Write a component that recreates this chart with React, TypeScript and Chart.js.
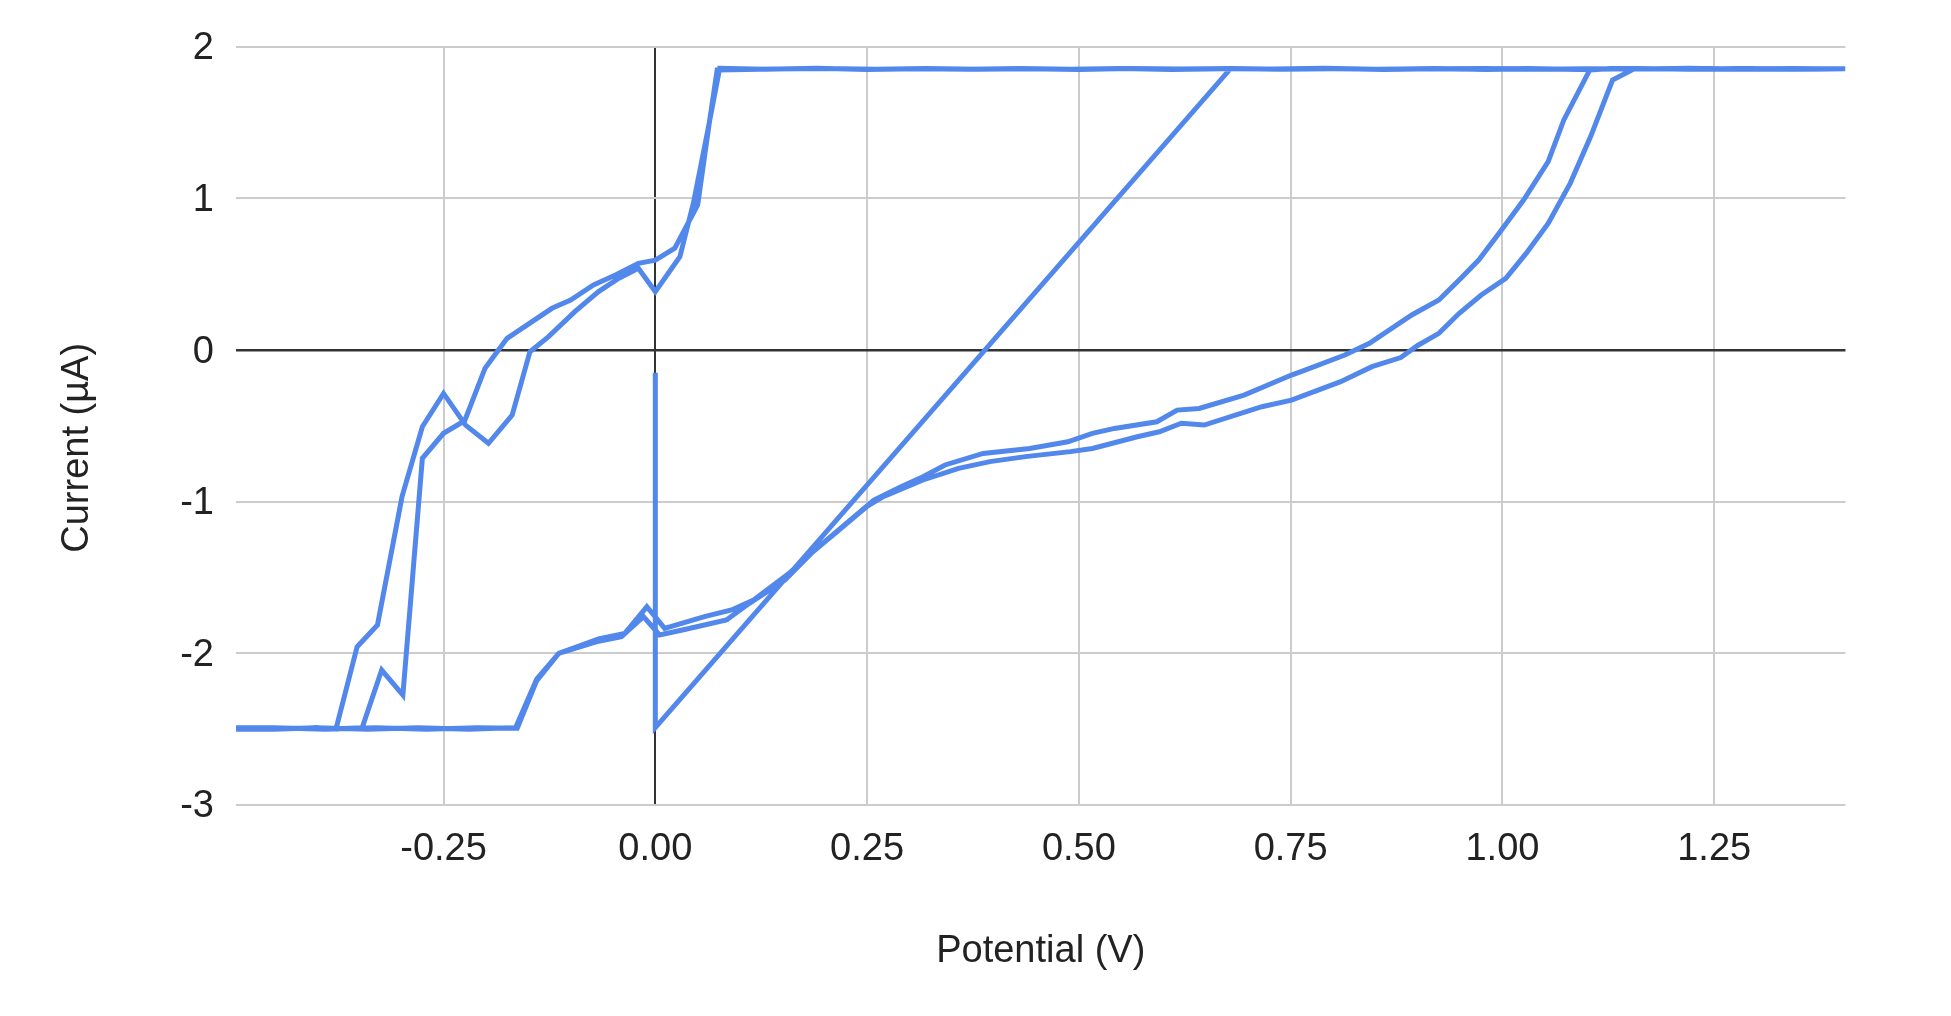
import { useEffect, useRef } from "react";
import { Chart, registerables } from "chart.js";

Chart.register(...registerables);

// Axis labels and ticks
const xTitle = "Potential (V)";
const yTitle = "Current (µA)";
const potentialTicks = [-0.25, 0, 0.25, 0.5, 0.75, 1.0, 1.25];
const currentTicks = [2, 1, 0, -1, -2, -3];
const potentialMin = -0.495;
const potentialMax = 1.405;
const currentMin = -3;
const currentMax = 2;

// Sweep 1: start at 0 V, step to the anodic limit and hold to the vertex
const sweep1Potential = [0, 0, 0.679, 0.74, 0.8, 0.86, 0.92, 0.98, 1.04, 1.1, 1.16, 1.22, 1.28, 1.34, 1.405];
const sweep1Current = [-0.15, -2.49, 1.855, 1.852, 1.857, 1.85, 1.855, 1.857, 1.851, 1.855, 1.853, 1.858, 1.852, 1.856, 1.853];

// Sweep 2: cathodic return (outer branch)
const sweep2Potential = [
  1.35, 1.29, 1.23, 1.17, 1.155, 1.13, 1.104, 1.08, 1.054, 1.028, 1.004, 0.975, 0.949, 0.925, 0.9, 0.88,
  0.846, 0.809, 0.751, 0.716, 0.648, 0.621, 0.595, 0.569, 0.516, 0.49, 0.437, 0.395, 0.358, 0.316, 0.269,
  0.25, 0.214, 0.186, 0.153, 0.111, 0.084, 0.032, 0.005, -0.014, -0.04, -0.067, -0.114, -0.14, -0.163,
  -0.21, -0.27, -0.33, -0.39, -0.45, -0.495,
];
const sweep2Current = [
  1.851, 1.856, 1.852, 1.855, 1.853, 1.78, 1.406, 1.099, 0.835, 0.637, 0.473, 0.363, 0.242, 0.11, 0.03, -0.05,
  -0.11, -0.209, -0.33, -0.374, -0.495, -0.483, -0.539, -0.572, -0.649, -0.67, -0.703, -0.736, -0.78, -0.857, -0.967,
  -1.03, -1.2, -1.33, -1.517, -1.67, -1.78, -1.846, -1.879, -1.758, -1.89, -1.92, -2.0, -2.18, -2.494,
  -2.49, -2.5, -2.49, -2.5, -2.49, -2.5,
];

// Sweep 3: anodic scan, second cycle
const sweep3Potential = [
  -0.45, -0.4, -0.377, -0.352, -0.328, -0.299, -0.275, -0.25, -0.224, -0.197, -0.169, -0.148, -0.126, -0.095,
  -0.067, -0.043, -0.02, 0, 0.029, 0.045, 0.062, 0.076, 0.13, 0.19, 0.25, 0.31, 0.37, 0.43, 0.49, 0.55, 0.61,
  0.67, 0.73, 0.79, 0.85, 0.91, 0.97, 1.03, 1.09, 1.15, 1.21, 1.27, 1.33, 1.405,
];
const sweep3Current = [
  -2.5, -2.49, -2.5, -1.956, -1.813, -0.967, -0.506, -0.286, -0.495, -0.615, -0.429, -0.011, 0.088, 0.253,
  0.385, 0.473, 0.539, 0.385, 0.615, 0.97, 1.45, 1.857, 1.852, 1.858, 1.85, 1.855, 1.851, 1.857, 1.852, 1.856, 1.85,
  1.855, 1.853, 1.858, 1.851, 1.855, 1.852, 1.857, 1.85, 1.854, 1.856, 1.851, 1.855, 1.852,
];

// Sweep 4: cathodic return (inner branch)
const sweep4Potential = [
  1.36, 1.3, 1.24, 1.18, 1.13, 1.103, 1.0725, 1.054, 1.025, 0.996, 0.972, 0.951, 0.925, 0.893, 0.843, 0.814,
  0.767, 0.751, 0.695, 0.642, 0.616, 0.592, 0.542, 0.516, 0.487, 0.442, 0.387, 0.342, 0.316, 0.29, 0.258,
  0.216, 0.184, 0.158, 0.116, 0.09, 0.058, 0.011, -0.01, -0.036, -0.067, -0.087, -0.114, -0.14, -0.165,
  -0.22, -0.28, -0.34, -0.4, -0.46, -0.495,
];
const sweep4Current = [
  1.855, 1.851, 1.856, 1.853, 1.857, 1.846, 1.517, 1.242, 0.989, 0.77, 0.593, 0.473, 0.33, 0.231, 0.044, -0.033,
  -0.132, -0.165, -0.297, -0.385, -0.396, -0.473, -0.517, -0.55, -0.605, -0.649, -0.682, -0.758, -0.835, -0.901, -0.989,
  -1.187, -1.34, -1.472, -1.648, -1.714, -1.758, -1.835, -1.693, -1.868, -1.905, -1.945, -2.0, -2.17, -2.49,
  -2.5, -2.49, -2.5, -2.49, -2.5, -2.49,
];

// Sweep 5: anodic scan, third cycle
const sweep5Potential = [
  -0.45, -0.39, -0.346, -0.323, -0.298, -0.275, -0.25, -0.225, -0.201, -0.175, -0.122, -0.1, -0.073, -0.047,
  -0.02, 0, 0.023, 0.05, 0.063, 0.073, 0.14, 0.2, 0.26, 0.32, 0.38, 0.44, 0.5, 0.56, 0.62, 0.68, 0.74, 0.8,
  0.86, 0.92, 0.98, 1.04, 1.1, 1.16, 1.22, 1.28, 1.34, 1.405,
];
const sweep5Current = [
  -2.49, -2.5, -2.49, -2.11, -2.275, -0.714, -0.549, -0.466, -0.12, 0.077, 0.275, 0.33, 0.429, 0.495,
  0.572, 0.593, 0.671, 0.956, 1.47, 1.846, 1.853, 1.857, 1.851, 1.856, 1.852, 1.855, 1.85, 1.856, 1.853, 1.857,
  1.851, 1.855, 1.852, 1.856, 1.85, 1.855, 1.853, 1.857, 1.851, 1.856, 1.852, 1.855,
];

const sweeps: [number[], number[]][] = [
  [sweep1Potential, sweep1Current],
  [sweep2Potential, sweep2Current],
  [sweep3Potential, sweep3Current],
  [sweep4Potential, sweep4Current],
  [sweep5Potential, sweep5Current],
];

const FONT_FAMILY = '"Liberation Sans", Arial, sans-serif';
const FONT_SIZE = 38;
const TEXT_COLOR = "#222222";
const LINE_COLOR = "rgb(82, 135, 236)";

const axisTitles = {
  id: "axisTitles",
  afterDraw(chart: Chart) {
    const { ctx, chartArea } = chart;
    ctx.save();
    ctx.fillStyle = TEXT_COLOR;
    ctx.font = `${FONT_SIZE}px ${FONT_FAMILY}`;
    ctx.textAlign = "center";
    ctx.textBaseline = "alphabetic";
    ctx.fillText(xTitle, (chartArea.left + chartArea.right) / 2, chartArea.bottom + 157);
    ctx.translate(chartArea.left - 148.5, (chartArea.top + chartArea.bottom) / 2 + 22);
    ctx.rotate(-Math.PI / 2);
    ctx.fillText(yTitle, 0, 0);
    ctx.restore();
  },
};

export default function App() {
  const canvasRef = useRef<HTMLCanvasElement | null>(null);

  useEffect(() => {
    const canvas = canvasRef.current;
    if (!canvas) return;

    const points = sweeps.flatMap(([xs, ys]) => xs.map((x, i) => ({ x, y: ys[i] })));

    const chart = new Chart(canvas, {
      type: "scatter",
      data: {
        datasets: [
          {
            data: points,
            showLine: true,
            borderColor: LINE_COLOR,
            backgroundColor: LINE_COLOR,
            borderWidth: 5,
            pointRadius: 0,
            pointHoverRadius: 0,
            tension: 0,
          },
        ],
      },
      options: {
        animation: false,
        responsive: false,
        devicePixelRatio: 1,
        events: [],
        layout: {
          padding: { left: 0, top: 46.7, right: 1951 - 1845.5, bottom: 1016 - 805 - 170 },
        },
        plugins: {
          legend: { display: false },
          tooltip: { enabled: false },
          title: { display: false },
        },
        scales: {
          x: {
            type: "linear",
            min: potentialMin,
            max: potentialMax,
            afterBuildTicks: (scale: any) => {
              scale.ticks = potentialTicks.map((value) => ({ value }));
            },
            afterFit: (scale: any) => {
              scale.height = 170;
            },
            ticks: {
              padding: 22,
              color: TEXT_COLOR,
              font: { family: FONT_FAMILY, size: FONT_SIZE },
              maxRotation: 0,
              autoSkip: false,
              callback: (value: any) => Number(value).toFixed(2),
            },
            grid: {
              drawTicks: false,
              color: (ctx: any) => (ctx.tick && ctx.tick.value === 0 ? "#333333" : "#cccccc"),
              lineWidth: 2,
            },
            border: { display: false },
          },
          y: {
            type: "linear",
            min: currentMin,
            max: currentMax,
            afterBuildTicks: (scale: any) => {
              scale.ticks = currentTicks.map((value) => ({ value }));
            },
            afterFit: (scale: any) => {
              scale.width = 236;
            },
            ticks: {
              padding: 22,
              labelOffset: 2,
              color: TEXT_COLOR,
              font: { family: FONT_FAMILY, size: FONT_SIZE },
              autoSkip: false,
              callback: (value: any) => String(value),
            },
            grid: {
              drawTicks: false,
              color: (ctx: any) => (ctx.tick && ctx.tick.value === 0 ? "#333333" : "#cccccc"),
              lineWidth: (ctx: any) => (ctx.tick && ctx.tick.value === 0 ? 2.5 : 2),
            },
            border: { display: false },
          },
        },
      },
      plugins: [axisTitles],
    });

    return () => chart.destroy();
  }, []);

  return (
    <div
      style={{
        position: "fixed",
        left: 0,
        top: 0,
        width: 1951,
        height: 1016,
        background: "#ffffff",
      }}
    >
      <canvas ref={canvasRef} width={1951} height={1016} style={{ display: "block" }} />
    </div>
  );
}
